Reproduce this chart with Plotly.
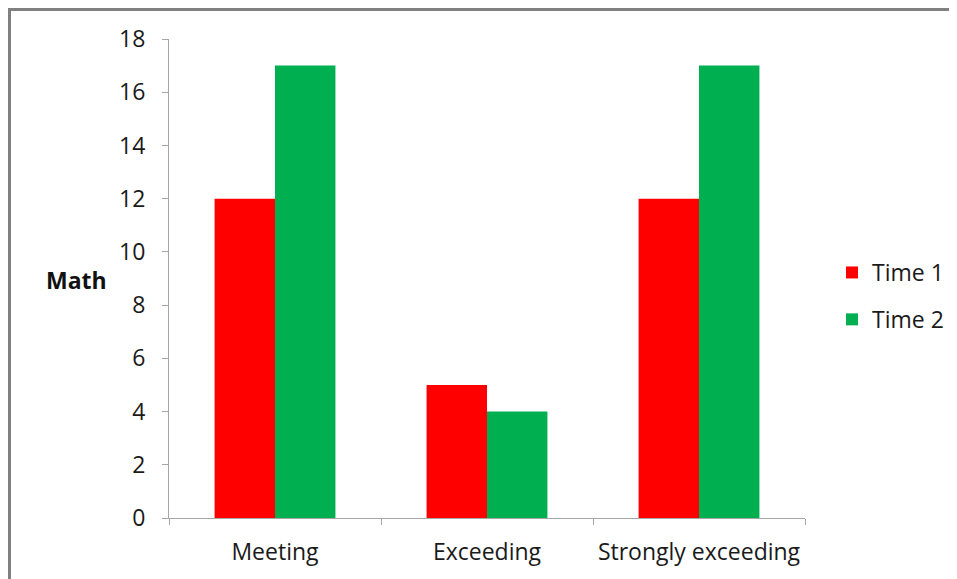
import plotly.graph_objects as go

categories = ["Meeting", "Exceeding", "Strongly exceeding"]
time1 = [12, 5, 12]
time2 = [17, 4, 17]
y_ticks = [0, 2, 4, 6, 8, 10, 12, 14, 16, 18]

FONT = "Open Sans"
OFF = 8  # page body margin
W, H = 957 - OFF, 579 - OFF
# target pixel positions in the screenshot
PL, PR, PT, PB = 169, 805, 39, 518
L = PL - OFF
T = PT - OFF
R = W - (PR - OFF)
B = H - (PB - OFF)
pw = PR - PL
ph = PB - PT

def px_x(x):
    return (x - PL) / pw

def px_y(y):
    return (PB - y) / ph

fig = go.Figure()
fig.add_trace(go.Bar(name="Time 1", x=categories, y=time1, marker_color="#FF0000",
                     marker_line_width=0, legendgroup="a"))
fig.add_trace(go.Bar(name="Time 2", x=categories, y=time2, marker_color="#00B050",
                     marker_line_width=0, legendgroup="b"))

axis_col = "#A6A6A6"
FS = 23
fig.update_layout(
    width=W, height=H,
    margin=dict(l=L, r=R, t=T, b=B, autoexpand=False),
    paper_bgcolor="white", plot_bgcolor="white",
    barmode="group", bargap=0.43, bargroupgap=0,
    font=dict(family=FONT, size=FS, color="#1a1a1a"),
    showlegend=True,
    legend=dict(x=px_x(832), y=px_y(296), xanchor="left", yanchor="middle",
                font=dict(size=FS, family=FONT), tracegroupgap=14,
                itemwidth=30, bgcolor="rgba(0,0,0,0)"),
    xaxis=dict(showline=True, linecolor=axis_col, linewidth=1,
               ticks="outside", tickson="boundaries", ticklen=6, tickcolor=axis_col,
               ticklabelstandoff=13,
               showgrid=False, tickfont=dict(size=FS, family=FONT)),
    yaxis=dict(range=[0, 18], tickvals=y_ticks, showline=True, linecolor=axis_col,
               linewidth=1, ticks="outside", ticklen=6, tickcolor=axis_col,
               ticklabelstandoff=12,
               showgrid=False, zeroline=False, tickfont=dict(size=FS, family=FONT)),
    annotations=[dict(text="<b>Math</b>", xref="paper", yref="paper",
                      x=px_x(76), y=px_y(280), xanchor="center", yanchor="middle",
                      showarrow=False,
                      font=dict(size=FS, family=FONT, color="#111111"))],
    shapes=[
        dict(type="line", xref="paper", yref="paper",
             x0=px_x(9.5), x1=px_x(9.5), y0=px_y(585), y1=px_y(8),
             line=dict(color="#808080", width=3)),
        dict(type="line", xref="paper", yref="paper",
             x0=px_x(8), x1=px_x(954), y0=px_y(9.5), y1=px_y(9.5),
             line=dict(color="#808080", width=3)),
    ],
)

fig.write_html(
    "out.html",
    config={"displayModeBar": False},
    post_script="document.documentElement.style.overflow='hidden';document.body.style.overflow='hidden';",
)
